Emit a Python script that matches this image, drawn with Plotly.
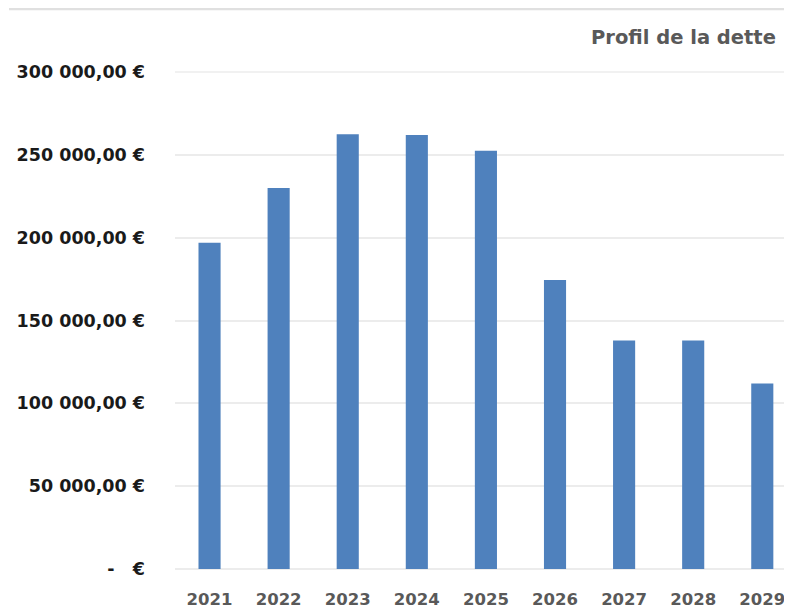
import plotly.graph_objects as go

years = ["2021", "2022", "2023", "2024", "2025", "2026", "2027", "2028", "2029"]
dette = [197000, 230000, 262500, 262000, 252500, 174500, 138000, 138000, 112000]

y_tickvals = [0, 50000, 100000, 150000, 200000, 250000, 300000]
y_ticktext = ["-   €", "50 000,00 €", "100 000,00 €", "150 000,00 €",
              "200 000,00 €", "250 000,00 €", "300 000,00 €"]
title_text = "Profil de la dette"

# the page body adds an 8px margin, so the figure is 8px smaller than the window
W, H = 784, 602
L, T, B = 167, 64, 41
PW, PH = W - L, H - T - B
GRID = "#ececec"

fig = go.Figure()
fig.add_trace(go.Bar(
    x=years, y=dette,
    marker=dict(color="#4f81bd", line=dict(width=0)),
    width=0.32,
))

fig.update_layout(
    width=W, height=H,
    margin=dict(l=L, r=0, t=T, b=B, pad=0),
    paper_bgcolor="white", plot_bgcolor="white",
    showlegend=False,
    font=dict(family="DejaVu Sans", size=15, color="#1a1a1a"),
    xaxis=dict(
        type="category", range=[-0.5, 8.43],
        showgrid=False, zeroline=False, showline=False,
        ticks="", ticklabelstandoff=18,
        tickfont=dict(family="DejaVu Sans", size=16.5, color="#595959", weight="bold"),
    ),
    yaxis=dict(
        range=[0, 300000], tickvals=y_tickvals, ticktext=y_ticktext,
        showgrid=True, gridcolor=GRID, gridwidth=1.5,
        zeroline=True, zerolinecolor=GRID, zerolinewidth=1.5,
        showline=False, ticks="",
        ticklabelstandoff=29,
        tickfont=dict(family="DejaVu Sans", size=17.5, color="#1a1a1a", weight="bold"),
    ),
    annotations=[dict(
        text=title_text, xref="paper", yref="paper",
        x=(778 - 175) / PW, y=1 + (72 - 37) / PH,
        xanchor="right", yanchor="middle", showarrow=False,
        font=dict(family="DejaVu Sans", size=19.5, color="#595959", weight="bold"),
    )],
    shapes=[
        dict(type="line", xref="paper", yref="paper",
             x0=(9 - 175) / PW, x1=1.02, y0=1 + (72 - 9) / PH, y1=1 + (72 - 9) / PH,
             line=dict(color="#e0e0e0", width=2.5)),
        dict(type="line", xref="paper", yref="paper", layer="below",
             x0=0, x1=1.02, y0=1, y1=1,
             line=dict(color=GRID, width=1.5)),
    ],
)

fig.write_html("out.html")
